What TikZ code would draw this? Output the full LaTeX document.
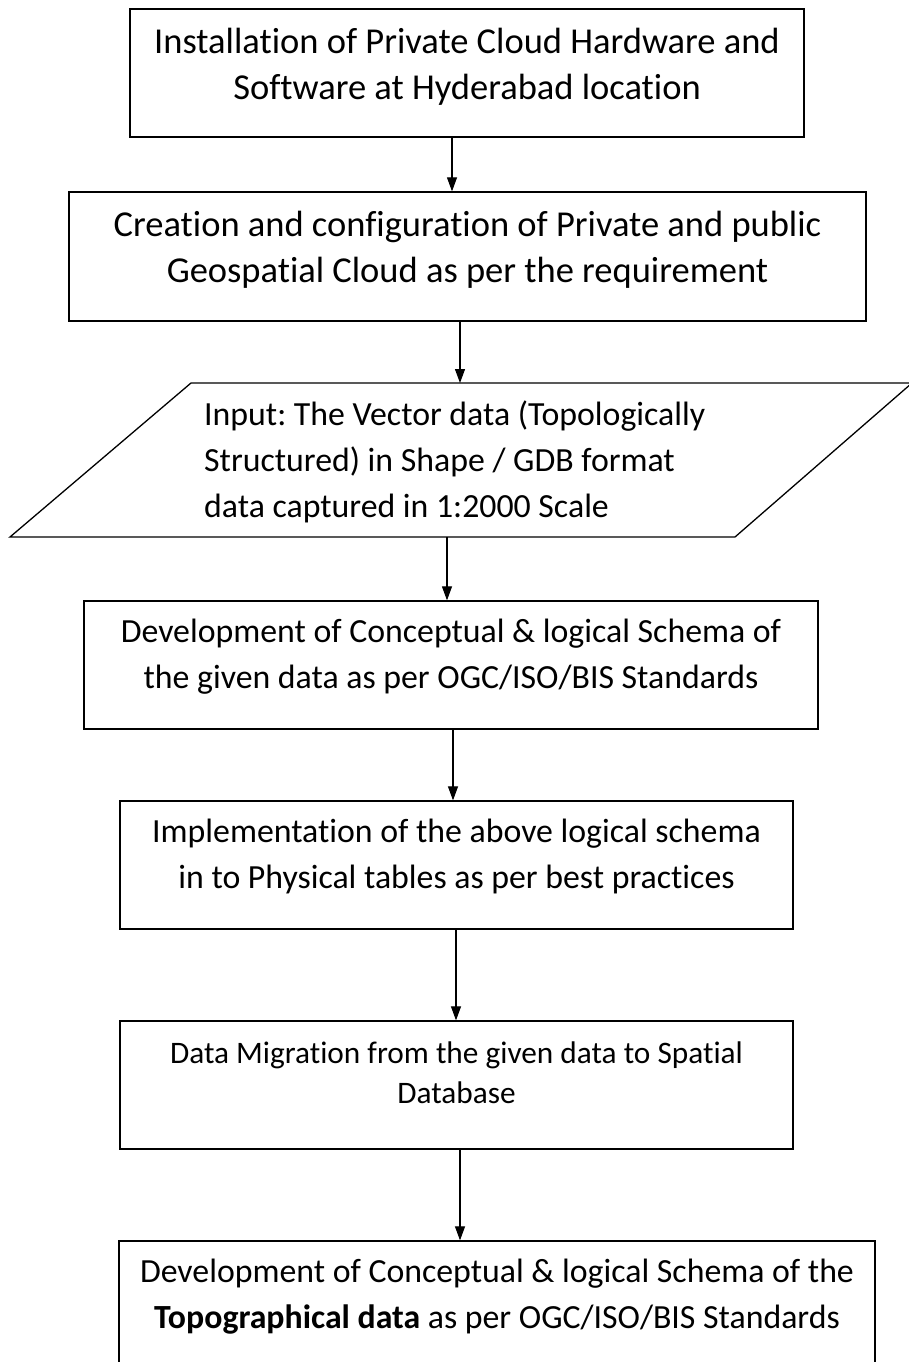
\documentclass[tikz,border=0pt]{standalone}
\usepackage{fontspec}
\setmainfont{Carlito}[RawFeature={-liga;-clig}]
\frenchspacing
\usetikzlibrary{arrows.meta}
\tikzset{
  stepbox/.style={draw=black, line width=1.3pt, rectangle, inner sep=0pt},
  biglabel/.style={inner sep=0pt, align=center, font=\fontsize{36.5}{46}\selectfont},
  label/.style={inner sep=0pt, align=center, font=\fontsize{33.8}{46}\selectfont},
  smalllabel/.style={inner sep=0pt, align=center, font=\fontsize{31.3}{40}\selectfont},
  flow/.style={draw=black, line width=1.1pt, -{Triangle[length=14pt,width=10pt]}},
}
\begin{document}
\begin{tikzpicture}[x=1pt,y=-1pt]
\useasboundingbox (0,0) rectangle (908,1362);
\fill[white] (0,0) rectangle (908,1362);

% process boxes
\node[stepbox, minimum width=674pt, minimum height=128pt] (b1) at (467,73) {};
\node[biglabel] (t1) at (467,67) {Installation of Private Cloud Hardware and\\Software at Hyderabad location};

\node[stepbox, minimum width=797pt, minimum height=129pt] (b2) at (467.5,256.5) {};
\node[biglabel] (t2) at (467.5,250) {Creation and configuration of Private and public\\Geospatial Cloud as per the requirement};

% input parallelogram
\coordinate (pTL) at (191,383);
\coordinate (pTR) at (912,383);
\coordinate (pBR) at (735,537);
\coordinate (pBL) at (10,537);
\draw[line width=1.3pt, line join=miter] (pTL) -- (pTR) -- (pBR) -- (pBL) -- cycle;
\coordinate (pin) at (460,383);
\coordinate (pout) at (447,537);
\node[label, align=left, anchor=west] (t3) at (204,462) {Input: The Vector data (Topologically\\Structured) in Shape / GDB format\\data captured in 1:2000 Scale};

\node[stepbox, minimum width=734pt, minimum height=128pt] (b4) at (451,665) {};
\node[label] (t4) at (451,657) {Development of Conceptual \& logical Schema of\\the given data as per OGC/ISO/BIS Standards};

\node[stepbox, minimum width=673pt, minimum height=128pt] (b5) at (456.5,865) {};
\node[label] (t5) at (456.5,856) {Implementation of the above logical schema\\in to Physical tables as per best practices};

\node[stepbox, minimum width=673pt, minimum height=128pt] (b6) at (456.5,1085) {};
\node[smalllabel] (t6) at (456.5,1073) {Data Migration from the given data to Spatial\\Database};

\node[stepbox, minimum width=756pt, minimum height=160pt] (b7) at (497,1321) {};
\node[label] (t7) at (497,1297) {Development of Conceptual \& logical Schema of the\\\textbf{Topographical data} as per OGC/ISO/BIS Standards};

% connectors
\draw[flow] (b1.south -| 452,0) -- (b2.north -| 452,0);
\draw[flow] (b2.south -| pin) -- (pin);
\draw[flow] (pout) -- (b4.north -| pout);
\draw[flow] (b4.south -| 453,0) -- (b5.north -| 453,0);
\draw[flow] (b5.south -| 456,0) -- (b6.north -| 456,0);
\draw[flow] (b6.south -| 460,0) -- (b7.north -| 460,0);
\end{tikzpicture}
\end{document}
